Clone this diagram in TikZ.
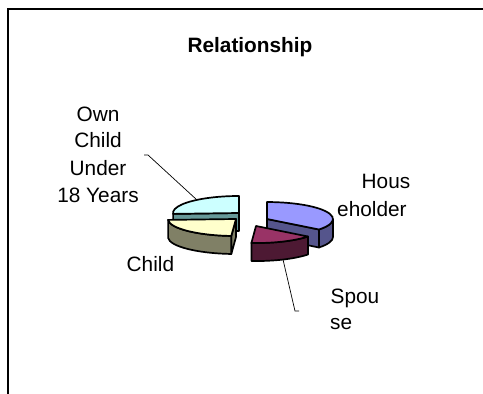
\documentclass[tikz,border=0pt]{standalone}
\usepackage{fontspec}
\setmainfont{Liberation Sans}
\begin{document}
\begin{tikzpicture}[x=1pt,y=1pt,
  face/.style={draw=black,line width=1.7pt,line join=round},
  lbl/.style={inner sep=0pt,font=\fontsize{20.8}{25}\selectfont},
  leader/.style={draw=black,line width=0.7pt},
  er/.style={x radius=66,y radius=17}]
\definecolor{hhtop}{HTML}{9999FF}
\definecolor{hhside}{HTML}{55558C}
\definecolor{sptop}{HTML}{993366}
\definecolor{spside}{HTML}{4D1933}
\definecolor{chtop}{HTML}{FFFFCC}
\definecolor{chside}{HTML}{808066}
\definecolor{octop}{HTML}{CCFFFF}
\definecolor{ocside}{HTML}{669999}
\useasboundingbox (0,0) rectangle (483,394);
\fill[white] (0,0) rectangle (483,394);
% frame
\draw[line width=1.2pt] (8,0) -- (8,385) -- (483,385);
% Own child slice [90,183]
\path[face,fill=ocside] (239,181) -- (173.1,180.1) -- (173.1,162.1) -- (239,163) -- cycle;
\path[face,fill=octop] (239,181) -- (239,198) arc[start angle=90,end angle=183,er] -- cycle;
% Householder slice [-38,90]
\path[face,fill=hhside] (267,175) -- (319,164.5) -- (319,146.5) -- (267,157) -- cycle;
\path[face,fill=hhside] (333,175) arc[start angle=0,end angle=-38,er] -- ++(0,-18) arc[start angle=-38,end angle=0,er] -- cycle;
\path[face,fill=hhtop] (267,175) -- (319,164.5) arc[start angle=-38,end angle=90,er] -- cycle;
% Child slice [183,266]
\path[face,fill=chside] (236,175) -- (231.3,158) -- (231.3,140) -- (236,157) -- cycle;
\path[face,fill=chside] (168.1,174.1) arc[start angle=183,end angle=266,x radius=68,y radius=17] -- ++(0,-18) arc[start angle=266,end angle=183,x radius=68,y radius=17] -- cycle;
\path[face,fill=chtop] (236,175) -- (168.1,174.1) arc[start angle=183,end angle=266,x radius=68,y radius=17] -- cycle;
% Spouse slice [-94,-38]
\path[face,fill=spside] (251.4,151) arc[start angle=-94,end angle=-38,er] -- ++(0,-18) arc[start angle=-38,end angle=-94,er] -- cycle;
\path[face,fill=sptop] (256,168) -- (251.4,151) arc[start angle=-94,end angle=-38,er] -- cycle;
% leader lines
\coordinate (ocA) at (144,239);
\coordinate (ocB) at (148,239);
\coordinate (ocC) at (197,194);
\draw[leader] (ocA) -- (ocB) -- (ocC);
\coordinate (spA) at (283,134.5);
\coordinate (spB) at (295,83);
\coordinate (spC) at (299,83);
\draw[leader] (spA) -- (spB) -- (spC);
% labels
\node[lbl,font=\fontsize{20.8}{25}\selectfont\bfseries,anchor=base] (title) at (250,341) {Relationship};
\node[lbl,anchor=base] (oc1) at (98,272) {Own};
\node[lbl,anchor=base] (oc2) at (98,246) {Child};
\node[lbl,anchor=base] (oc3) at (98,218) {Under};
\node[lbl,anchor=base] (oc4) at (98,191) {18 Years};
\node[lbl,anchor=base west] (hh1) at (361.5,205) {Hous};
\node[lbl,anchor=base west] (hh2) at (337,177) {eholder};
\node[lbl,anchor=base west] (ch) at (126.5,122) {Child};
\node[lbl,anchor=base west] (sp1) at (330.5,90) {Spou};
\node[lbl,anchor=base west] (sp2) at (330,64) {se};
\end{tikzpicture}
\end{document}
